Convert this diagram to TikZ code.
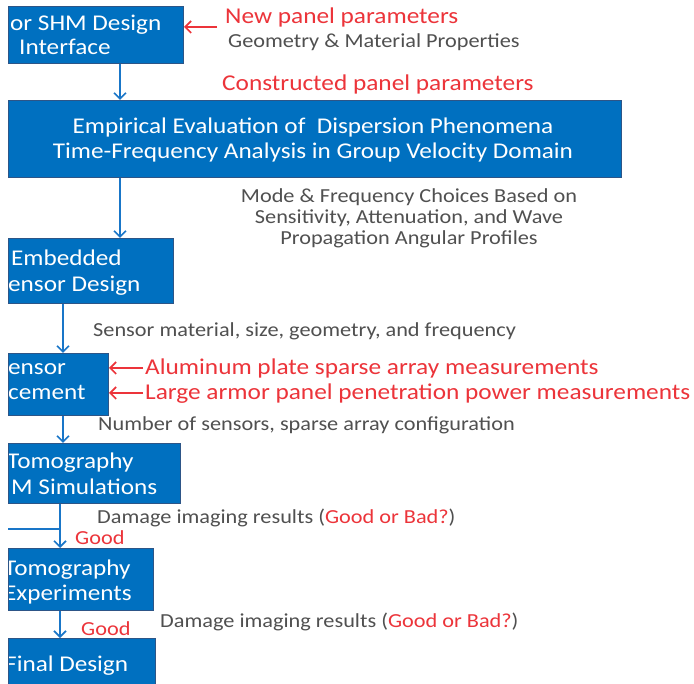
\documentclass[tikz,border=0pt]{standalone}
\usepackage{fontspec}
\setmainfont{Carlito}[FakeStretch=1.12]
\usetikzlibrary{arrows.meta}
\definecolor{boxblue}{RGB}{0,112,192}
\definecolor{boxedge}{RGB}{45,85,135}
\definecolor{arrblue}{RGB}{25,118,200}
\definecolor{redtxt}{RGB}{236,52,58}
\definecolor{graytxt}{RGB}{80,80,80}
\begin{document}
\begin{tikzpicture}[x=1pt,y=-1pt,
  box/.style={draw=boxedge, line width=1pt, fill=boxblue, anchor=north west, inner sep=0pt},
  lbl/.style={inner sep=0pt, text height=0.7em, text depth=0.2em, anchor=west, yshift=-4.5pt},
  btxt/.style={lbl, text=white, font=\fontsize{22.5}{26}\selectfont},
  rtxt/.style={lbl, text=redtxt, font=\fontsize{22.6}{26}\selectfont},
  gtxt/.style={lbl, text=graytxt, font=\fontsize{19.9}{21}\selectfont},
  arr/.style={draw=arrblue, line width=1.6pt, -{Straight Barb[length=6pt,width=12pt,line width=1.6pt]}},
  rarr/.style={draw=redtxt, line width=1.6pt, -{Straight Barb[length=6pt,width=12pt,line width=1.6pt]}},
  bline/.style={draw=arrblue, line width=1.6pt}
]
\useasboundingbox[fill=white] (0,0) rectangle (694,684);
\begin{scope}
\clip (0,0) rectangle (694,684);
% boxes
\node[box, minimum width=175pt, minimum height=57pt] (b1) at (8,6) {};
\node[box, minimum width=613pt, minimum height=77pt] (b2) at (8,100) {};
\node[box, minimum width=165pt, minimum height=65pt] (b3) at (8,238) {};
\node[box, minimum width=100pt, minimum height=62pt] (b4) at (8,353) {};
\node[box, minimum width=172pt, minimum height=60pt] (b5) at (8,443) {};
\node[box, minimum width=145pt, minimum height=62pt] (b6) at (8,548) {};
\node[box, minimum width=147pt, minimum height=60pt] (b7) at (8,638) {};
\end{scope}
\begin{scope}
\clip (9,0) rectangle (694,684);
\node[btxt] (t1a) at (10,24) {or SHM Design};
\node[btxt] (t1b) at (19,48) {Interface};
\node[btxt, anchor=center] (t2a) at (313,127) {Empirical Evaluation of \ Dispersion Phenomena};
\node[btxt, anchor=center] (t2b) at (313,152) {Time-Frequency Analysis in Group Velocity Domain};
\node[btxt] (t3a) at (11,259) {Embedded};
\node[btxt] (t3b) at (8,285) {ensor Design};
\node[btxt] (t4a) at (8,368) {ensor};
\node[btxt] (t4b) at (8,393) {cement};
\node[btxt] (t5a) at (7,462) {Tomography};
\node[btxt] (t5b) at (11,488) {M Simulations};
\node[btxt] (t6a) at (4,569) {Tomography};
\node[btxt] (t6b) at (4,593) {Experiments};
\node[btxt] (t7a) at (5,664) {Final Design};
\end{scope}
% labels
\node[rtxt] (np) at (225,17) {New panel parameters};
\node[gtxt] (gm) at (228,41) {Geometry \& Material Properties};
\node[rtxt] (cp) at (222,84) {Constructed panel parameters};
\node[gtxt, anchor=center] (mf1) at (409,196) {Mode \& Frequency Choices Based on};
\node[gtxt, anchor=center] (mf2) at (409,217) {Sensitivity, Attenuation, and Wave};
\node[gtxt, anchor=center] (mf3) at (409,238) {Propagation Angular Profiles};
\node[gtxt] (sm) at (93,330) {Sensor material, size, geometry, and frequency};
\node[rtxt] (al) at (145,368) {Aluminum plate sparse array measurements};
\node[rtxt] (la) at (145,393) {Large armor panel penetration power measurements};
\node[gtxt] (ns) at (98,424) {Number of sensors, sparse array configuration};
\node[gtxt] (d1) at (97,517) {Damage imaging results (\textcolor{redtxt}{Good or Bad?})};
\node[rtxt, font=\fontsize{19.9}{21}\selectfont] (g1) at (75,537) {Good};
\node[rtxt, font=\fontsize{19.9}{21}\selectfont] (g2) at (81,628) {Good};
\node[gtxt] (d2) at (160,620) {Damage imaging results (\textcolor{redtxt}{Good or Bad?})};
% connectors
\coordinate (xa) at (120,0);
\coordinate (xb) at (63,0);
\coordinate (xc) at (60,0);
\coordinate (r1) at (217,27);
\coordinate (r2) at (143,368);
\coordinate (r3) at (143,393);
\coordinate (lb) at (8,529);
\draw[arr] (b1.south -| xa) -- (b2.north -| xa);
\draw[arr] (b2.south -| xa) -- (b3.north -| xa);
\draw[arr] (b3.south -| xb) -- (b4.north -| xb);
\draw[arr] (b4.south -| xb) -- (b5.north -| xb);
\draw[arr] (b5.south -| xc) -- (b6.north -| xc);
\draw[arr] (b6.south -| xc) -- (b7.north -| xc);
\draw[bline] (lb) -- (lb -| xc);
\draw[rarr] (r1) -- (b1.east |- r1);
\draw[rarr] (r2) -- (b4.east |- r2);
\draw[rarr] (r3) -- (b4.east |- r3);
\end{tikzpicture}
\end{document}
